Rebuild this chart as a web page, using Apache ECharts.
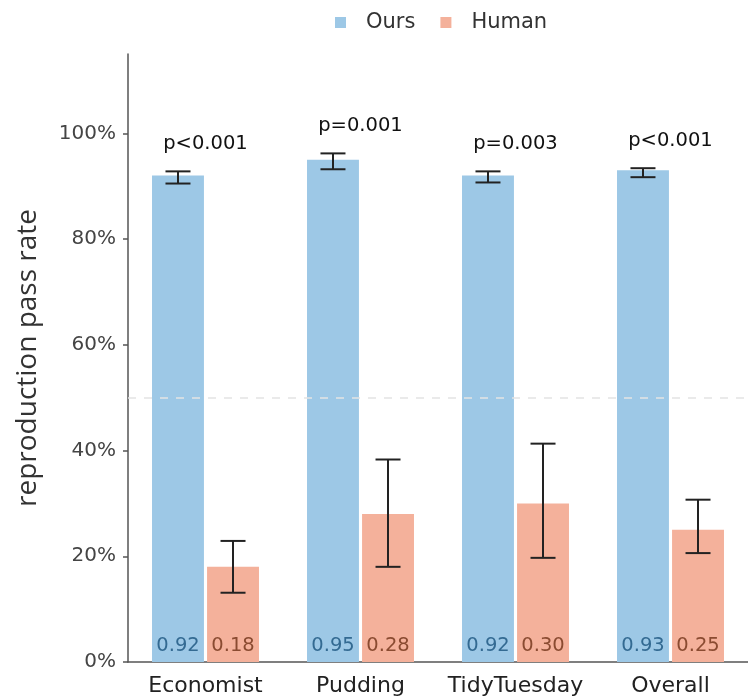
<!DOCTYPE html>
<html>
<head>
<meta charset="utf-8">
<script src="https://cdn.jsdelivr.net/npm/echarts@6/dist/echarts.min.js"></script>
<style>
  html, body { margin: 0; padding: 0; background: #fff; }
  #chart { width: 748px; height: 699px; }
</style>
</head>
<body>
<div id="chart"></div>
<script>
// Categories and pass rates
const categories = ['Economist', 'Pudding', 'TidyTuesday', 'Overall'];
const oursRate = [0.92, 0.95, 0.92, 0.93];
const humanRate = [0.18, 0.28, 0.30, 0.25];

// Confidence interval bounds [low, high]
const oursLow = [0.905, 0.932, 0.907, 0.917];
const oursHigh = [0.928, 0.962, 0.928, 0.934];
const humanLow = [0.131, 0.180, 0.197, 0.206];
const humanHigh = [0.229, 0.383, 0.413, 0.307];

// Significance labels above each group
const pLabels = ['p<0.001', 'p=0.001', 'p=0.003', 'p<0.001'];

// Y axis ticks
const yTicks = [0, 0.2, 0.4, 0.6, 0.8, 1.0];

const BAR_FRAC = 0.335;
const GAP_FRAC = 0.06;
const FONT = 'DejaVu Sans';

function errorBarItem(sign) {
  return function (params, api) {
    const i = api.value(0);
    const lo = api.coord([i, api.value(1)]);
    const hi = api.coord([i, api.value(2)]);
    const band = api.size([1, 0])[0];
    const bw = band * BAR_FRAC;
    const x = lo[0] + sign * bw * (1 + GAP_FRAC) / 2;
    const cap = 12.5;
    const style = { stroke: '#222', lineWidth: 2 };
    return {
      type: 'group',
      children: [
        { type: 'line', shape: { x1: x, y1: lo[1], x2: x, y2: hi[1] }, style },
        { type: 'line', shape: { x1: x - cap, y1: lo[1], x2: x + cap, y2: lo[1] }, style },
        { type: 'line', shape: { x1: x - cap, y1: hi[1], x2: x + cap, y2: hi[1] }, style }
      ]
    };
  };
}

const chart = echarts.init(document.getElementById('chart'), null, { renderer: 'canvas' });

chart.setOption({
  animation: false,
  backgroundColor: '#ffffff',
  textStyle: { fontFamily: FONT },
  legend: {
    data: ['Ours', 'Human'],
    top: 7,
    left: 330,
    icon: 'rect',
    itemWidth: 11,
    itemHeight: 11,
    itemGap: 25,
    textStyle: { fontFamily: FONT, fontSize: 21, color: '#333', padding: [0, 0, 0, 15] }
  },
  grid: { left: 128, right: 0, top: 54, bottom: 37 },
  xAxis: {
    type: 'category',
    data: categories,
    axisLine: { lineStyle: { color: '#555', width: 1.5 } },
    axisTick: { alignWithLabel: true, length: 5, lineStyle: { color: '#555', width: 1.5 } },
    axisLabel: { interval: 0, fontFamily: FONT, fontSize: 22, color: '#222', margin: 13 }
  },
  yAxis: {
    type: 'value',
    min: 0,
    max: 1.15,
    interval: 0.2,
    name: 'reproduction pass rate',
    nameLocation: 'middle',
    nameGap: 86,
    nameTextStyle: { fontFamily: 'Open Sans', fontSize: 28, color: '#333' },
    axisLine: { show: true, lineStyle: { color: '#555', width: 1.5 } },
    axisTick: { show: true, length: 5, customValues: yTicks, lineStyle: { color: '#555', width: 1.5 } },
    axisLabel: {
      fontFamily: FONT, fontSize: 20, color: '#444', margin: 12,
      customValues: yTicks,
      formatter: v => Math.round(v * 100) + '%'
    },
    splitLine: { show: false }
  },
  series: [
    {
      name: 'Ours',
      type: 'bar',
      data: oursRate,
      barWidth: (BAR_FRAC * 100) + '%',
      barGap: (GAP_FRAC * 100) + '%',
      itemStyle: { color: '#9dc8e6' },
      label: {
        show: true,
        position: 'insideBottom',
        distance: 6,
        formatter: p => p.value.toFixed(2),
        fontFamily: FONT, fontSize: 19.5, color: '#336a92'
      },
      markLine: {
        silent: true,
        symbol: 'none',
        label: { show: false },
        lineStyle: { color: '#e3e3e3', type: [8, 8], width: 1.5 },
        data: [{ yAxis: 0.5 }]
      },
      z: 2
    },
    {
      name: 'Human',
      type: 'bar',
      data: humanRate,
      barWidth: (BAR_FRAC * 100) + '%',
      barGap: (GAP_FRAC * 100) + '%',
      itemStyle: { color: '#f4b19b' },
      label: {
        show: true,
        position: 'insideBottom',
        distance: 6,
        formatter: p => p.value.toFixed(2),
        fontFamily: FONT, fontSize: 19.5, color: '#8a4b31'
      },
      z: 2
    },
    {
      type: 'custom',
      name: 'Ours CI',
      renderItem: errorBarItem(-1),
      data: categories.map((c, i) => [i, oursLow[i], oursHigh[i]]),
      encode: { x: 0, y: [1, 2] },
      z: 5
    },
    {
      type: 'custom',
      name: 'Human CI',
      renderItem: errorBarItem(1),
      data: categories.map((c, i) => [i, humanLow[i], humanHigh[i]]),
      encode: { x: 0, y: [1, 2] },
      z: 5
    },
    {
      type: 'custom',
      name: 'p-values',
      renderItem: function (params, api) {
        const i = api.value(0);
        const pt = api.coord([i, api.value(1)]);
        return {
          type: 'text',
          style: {
            x: pt[0],
            y: pt[1] - 17,
            text: pLabels[i],
            align: 'center',
            verticalAlign: 'bottom',
            fontFamily: FONT,
            fontSize: 19.5,
            fill: '#111'
          }
        };
      },
      data: categories.map((c, i) => [i, oursHigh[i]]),
      encode: { x: 0, y: 1 },
      z: 6
    }
  ]
});
</script>
</body>
</html>
